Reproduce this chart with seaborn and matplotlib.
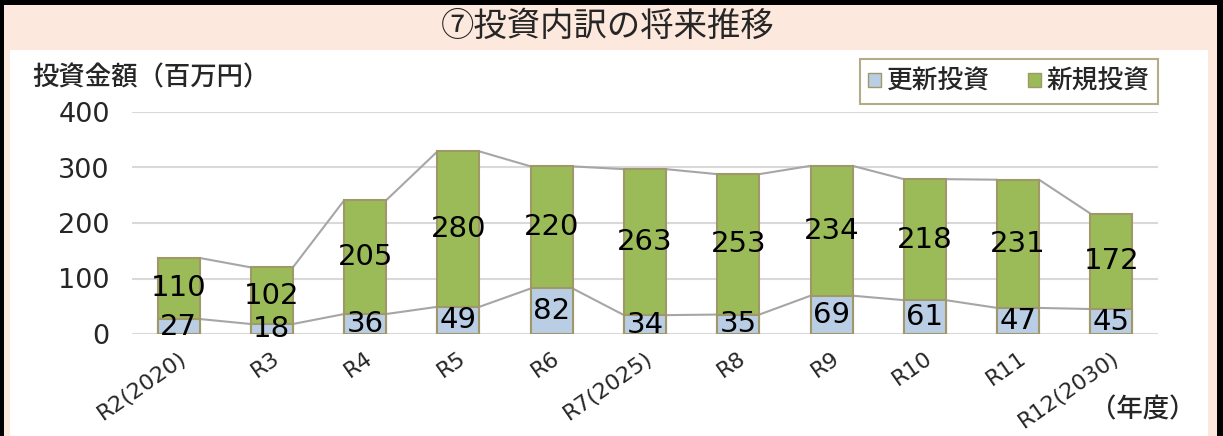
import matplotlib.pyplot as plt
import seaborn as sns
from matplotlib.patches import Patch, Rectangle

years = ["R2(2020)", "R3", "R4", "R5", "R6", "R7(2025)", "R8", "R9", "R10", "R11", "R12(2030)"]
renewal = [27, 18, 36, 49, 82, 34, 35, 69, 61, 47, 45]
new = [110, 102, 205, 280, 220, 263, 253, 234, 218, 231, 172]
total = [a + b for a, b in zip(renewal, new)]

BLUE = "#B9CDE5"
GREEN = "#9BBB59"
EDGE = "#A09868"
PEACH = "#FCE8DC"
JP = ["Noto Sans CJK JP", "DejaVu Sans"]

sns.set_style("white")
plt.rcParams["font.family"] = ["DejaVu Sans", "Noto Sans CJK JP"]

fig = plt.figure(figsize=(12.23, 4.36), dpi=100)
fig.patch.set_facecolor(PEACH)

W, H = 1223, 436
# white panel and black frame
for rect, col in [((10 / W, 0, 1198 / W, 386 / H), "white"),
                  ((0, 1 - 5 / H, 1, 5 / H), "black"),
                  ((0, 0, 4 / W, 1), "black"),
                  ((1 - 6 / W, 0, 6 / W, 1), "black")]:
    fig.patches.append(Rectangle(rect[:2], rect[2], rect[3], transform=fig.transFigure,
                                 facecolor=col, edgecolor="none", zorder=-5))

ax = fig.add_axes([132 / W, 102 / H, (1158 - 132) / W, 222 / H])
ax.set_zorder(2)
ax.set_facecolor("none")

bw = 0.45
sns.barplot(x=years, y=total, color=GREEN, saturation=1, width=bw,
            edgecolor=EDGE, linewidth=1.5, ax=ax, zorder=3)
sns.barplot(x=years, y=renewal, color=BLUE, saturation=1, width=bw,
            edgecolor=EDGE, linewidth=1.5, ax=ax, zorder=3)

# series lines between bars
for series in (total, renewal):
    for i in range(len(years) - 1):
        ax.plot([i + bw / 2, i + 1 - bw / 2], [series[i], series[i + 1]],
                color="#A6A6A6", lw=1.5, zorder=2)

for i in range(len(years)):
    ax.text(i, renewal[i] / 2, str(renewal[i]), ha="center", va="center",
            fontsize=21, color="black", zorder=5)
    ax.text(i, renewal[i] + new[i] / 2, str(new[i]), ha="center", va="center",
            fontsize=21, color="black", zorder=5)

ax.set_ylim(0, 400)
ax.set_xlim(-0.5, len(years) - 0.5)
ax.set_yticks([0, 100, 200, 300, 400])
ax.yaxis.grid(True, color="#D9D9D9", lw=1.5)
ax.set_axisbelow(True)
for s in ax.spines.values():
    s.set_visible(False)
ax.tick_params(axis="y", length=0, pad=16, labelsize=19.5)
ax.tick_params(axis="x", length=0, pad=10, labelsize=16)
plt.setp(ax.get_xticklabels(), rotation=35, ha="right", rotation_mode="anchor")
ax.set_xlabel("")
ax.set_ylabel("")

fig.text(608 / W, 1 - 26 / H, "⑦投資内訳の将来推移", ha="center", va="center",
         fontsize=24, family=JP)
fig.text(32 / W, 1 - 78 / H, "投資金額（百万円）", ha="left", va="center",
         fontsize=19, family=JP, fontweight="medium")
fig.text(1196 / W, 1 - 410 / H, "（年度）", ha="right", va="center",
         fontsize=19, family=JP, fontweight="medium")

handles = [Patch(facecolor=BLUE, edgecolor=EDGE, label="更新投資"),
           Patch(facecolor=GREEN, edgecolor=EDGE, label="新規投資")]
leg = fig.legend(handles=handles, loc="upper right", bbox_to_anchor=(1158 / W, 1 - 59 / H),
                 ncol=2, frameon=True, fancybox=False,
                 prop={"family": JP, "size": 18.5, "weight": "medium"},
                 handlelength=0.5, handleheight=0.5, handletextpad=0.2,
                 columnspacing=1.5, borderpad=0.35, borderaxespad=0)
leg.get_frame().set_edgecolor(EDGE)
leg.get_frame().set_linewidth(1.5)
leg.set_zorder(5)

fig.savefig("out.png", dpi=100, facecolor=PEACH)
